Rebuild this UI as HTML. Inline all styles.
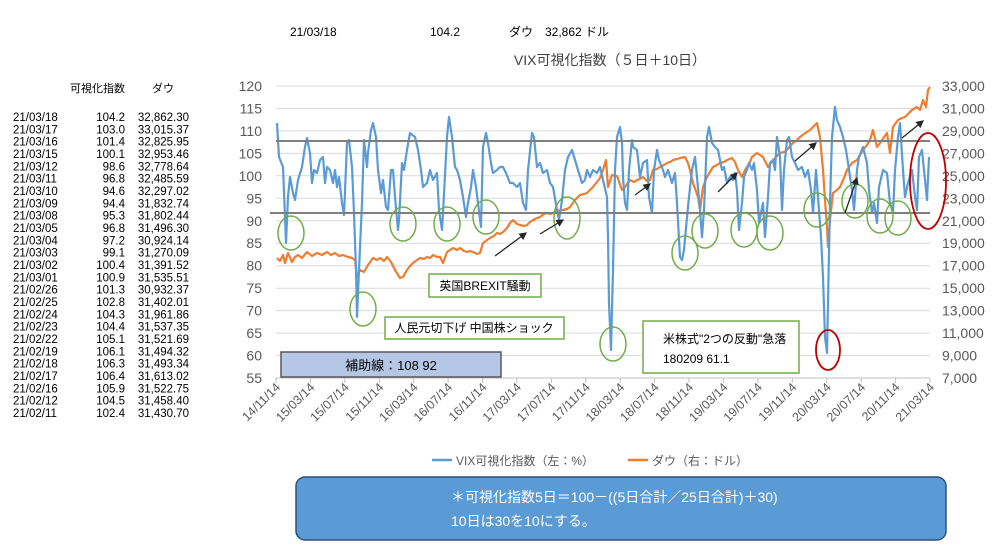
<!DOCTYPE html>
<html><head><meta charset="utf-8"><style>
body{margin:0;background:#fff;width:1000px;height:554px;overflow:hidden;font-family:"Liberation Sans","Noto Sans CJK JP",sans-serif;}
</style></head><body>
<svg width="1000" height="554" viewBox="0 0 1000 554" xmlns="http://www.w3.org/2000/svg" font-family="Liberation Sans, Noto Sans CJK JP, sans-serif">
<rect width="1000" height="554" fill="#fff"/>
<g font-size="12" fill="#000">
<text x="290" y="36">21/03/18</text><text x="430" y="36">104.2</text><text x="509" y="36">ダウ</text><text x="545" y="36">32,862 ドル</text>
</g>
<text x="610" y="65" font-size="14" fill="#404040" text-anchor="middle">VIX可視化指数（５日＋10日）</text>
<g font-size="11" fill="#000">
<text x="70" y="92">可視化指数</text><text x="152" y="92">ダウ</text>
</g>
<g font-size="11.5" fill="#000">
<text x="13" y="121">21/03/18</text><text x="125" y="121" text-anchor="end">104.2</text><text x="189" y="121" text-anchor="end">32,862.30</text>
<text x="13" y="133.3">21/03/17</text><text x="125" y="133.3" text-anchor="end">103.0</text><text x="189" y="133.3" text-anchor="end">33,015.37</text>
<text x="13" y="145.7">21/03/16</text><text x="125" y="145.7" text-anchor="end">101.4</text><text x="189" y="145.7" text-anchor="end">32,825.95</text>
<text x="13" y="158">21/03/15</text><text x="125" y="158" text-anchor="end">100.1</text><text x="189" y="158" text-anchor="end">32,953.46</text>
<text x="13" y="170.3">21/03/12</text><text x="125" y="170.3" text-anchor="end">98.6</text><text x="189" y="170.3" text-anchor="end">32,778.64</text>
<text x="13" y="182.7">21/03/11</text><text x="125" y="182.7" text-anchor="end">96.8</text><text x="189" y="182.7" text-anchor="end">32,485.59</text>
<text x="13" y="195">21/03/10</text><text x="125" y="195" text-anchor="end">94.6</text><text x="189" y="195" text-anchor="end">32,297.02</text>
<text x="13" y="207.3">21/03/09</text><text x="125" y="207.3" text-anchor="end">94.4</text><text x="189" y="207.3" text-anchor="end">31,832.74</text>
<text x="13" y="219.7">21/03/08</text><text x="125" y="219.7" text-anchor="end">95.3</text><text x="189" y="219.7" text-anchor="end">31,802.44</text>
<text x="13" y="232">21/03/05</text><text x="125" y="232" text-anchor="end">96.8</text><text x="189" y="232" text-anchor="end">31,496.30</text>
<text x="13" y="244.3">21/03/04</text><text x="125" y="244.3" text-anchor="end">97.2</text><text x="189" y="244.3" text-anchor="end">30,924.14</text>
<text x="13" y="256.7">21/03/03</text><text x="125" y="256.7" text-anchor="end">99.1</text><text x="189" y="256.7" text-anchor="end">31,270.09</text>
<text x="13" y="269">21/03/02</text><text x="125" y="269" text-anchor="end">100.4</text><text x="189" y="269" text-anchor="end">31,391.52</text>
<text x="13" y="281.3">21/03/01</text><text x="125" y="281.3" text-anchor="end">100.9</text><text x="189" y="281.3" text-anchor="end">31,535.51</text>
<text x="13" y="293.7">21/02/26</text><text x="125" y="293.7" text-anchor="end">101.3</text><text x="189" y="293.7" text-anchor="end">30,932.37</text>
<text x="13" y="306">21/02/25</text><text x="125" y="306" text-anchor="end">102.8</text><text x="189" y="306" text-anchor="end">31,402.01</text>
<text x="13" y="318.3">21/02/24</text><text x="125" y="318.3" text-anchor="end">104.3</text><text x="189" y="318.3" text-anchor="end">31,961.86</text>
<text x="13" y="330.7">21/02/23</text><text x="125" y="330.7" text-anchor="end">104.4</text><text x="189" y="330.7" text-anchor="end">31,537.35</text>
<text x="13" y="343">21/02/22</text><text x="125" y="343" text-anchor="end">105.1</text><text x="189" y="343" text-anchor="end">31,521.69</text>
<text x="13" y="355.3">21/02/19</text><text x="125" y="355.3" text-anchor="end">106.1</text><text x="189" y="355.3" text-anchor="end">31,494.32</text>
<text x="13" y="367.7">21/02/18</text><text x="125" y="367.7" text-anchor="end">106.3</text><text x="189" y="367.7" text-anchor="end">31,493.34</text>
<text x="13" y="380">21/02/17</text><text x="125" y="380" text-anchor="end">106.4</text><text x="189" y="380" text-anchor="end">31,613.02</text>
<text x="13" y="392.3">21/02/16</text><text x="125" y="392.3" text-anchor="end">105.9</text><text x="189" y="392.3" text-anchor="end">31,522.75</text>
<text x="13" y="404.7">21/02/12</text><text x="125" y="404.7" text-anchor="end">104.5</text><text x="189" y="404.7" text-anchor="end">31,458.40</text>
<text x="13" y="417">21/02/11</text><text x="125" y="417" text-anchor="end">102.4</text><text x="189" y="417" text-anchor="end">31,430.70</text>
</g>
<g stroke="#d9d9d9" stroke-width="1">
<line x1="276" x2="930" y1="86" y2="86"/><line x1="276" x2="930" y1="108.5" y2="108.5"/><line x1="276" x2="930" y1="130.9" y2="130.9"/><line x1="276" x2="930" y1="153.4" y2="153.4"/><line x1="276" x2="930" y1="175.8" y2="175.8"/><line x1="276" x2="930" y1="198.3" y2="198.3"/><line x1="276" x2="930" y1="220.8" y2="220.8"/><line x1="276" x2="930" y1="243.2" y2="243.2"/><line x1="276" x2="930" y1="265.7" y2="265.7"/><line x1="276" x2="930" y1="288.2" y2="288.2"/><line x1="276" x2="930" y1="310.6" y2="310.6"/><line x1="276" x2="930" y1="333.1" y2="333.1"/><line x1="276" x2="930" y1="355.5" y2="355.5"/>
</g>
<line x1="276" x2="930" y1="378" y2="378" stroke="#bfbfbf"/>
<g stroke="#bfbfbf"><line x1="276.0" x2="276.0" y1="378" y2="383"/><line x1="310.4" x2="310.4" y1="378" y2="383"/><line x1="344.8" x2="344.8" y1="378" y2="383"/><line x1="379.3" x2="379.3" y1="378" y2="383"/><line x1="413.7" x2="413.7" y1="378" y2="383"/><line x1="448.1" x2="448.1" y1="378" y2="383"/><line x1="482.5" x2="482.5" y1="378" y2="383"/><line x1="516.9" x2="516.9" y1="378" y2="383"/><line x1="551.4" x2="551.4" y1="378" y2="383"/><line x1="585.8" x2="585.8" y1="378" y2="383"/><line x1="620.2" x2="620.2" y1="378" y2="383"/><line x1="654.6" x2="654.6" y1="378" y2="383"/><line x1="689.1" x2="689.1" y1="378" y2="383"/><line x1="723.5" x2="723.5" y1="378" y2="383"/><line x1="757.9" x2="757.9" y1="378" y2="383"/><line x1="792.3" x2="792.3" y1="378" y2="383"/><line x1="826.7" x2="826.7" y1="378" y2="383"/><line x1="861.2" x2="861.2" y1="378" y2="383"/><line x1="895.6" x2="895.6" y1="378" y2="383"/><line x1="930.0" x2="930.0" y1="378" y2="383"/></g>
<g font-size="14" fill="#595959" text-anchor="end">
<text x="262" y="91">120</text><text x="262" y="113.5">115</text><text x="262" y="136">110</text><text x="262" y="158.4">105</text><text x="262" y="180.8">100</text><text x="262" y="203.3">95</text><text x="262" y="225.8">90</text><text x="262" y="248.2">85</text><text x="262" y="270.7">80</text><text x="262" y="293.2">75</text><text x="262" y="315.6">70</text><text x="262" y="338.1">65</text><text x="262" y="360.5">60</text><text x="262" y="383">55</text>
</g>
<g font-size="14" fill="#595959">
<text x="942" y="91">33,000</text><text x="942" y="113.5">31,000</text><text x="942" y="136">29,000</text><text x="942" y="158.4">27,000</text><text x="942" y="180.8">25,000</text><text x="942" y="203.3">23,000</text><text x="942" y="225.8">21,000</text><text x="942" y="248.2">19,000</text><text x="942" y="270.7">17,000</text><text x="942" y="293.2">15,000</text><text x="942" y="315.6">13,000</text><text x="942" y="338.1">11,000</text><text x="942" y="360.5">9,000</text><text x="942" y="383">7,000</text>
</g>
<g font-size="12.5" fill="#595959" text-anchor="end">
<text transform="translate(281,388) rotate(-45)">14/11/14</text><text transform="translate(315.4,388) rotate(-45)">15/03/14</text><text transform="translate(349.8,388) rotate(-45)">15/07/14</text><text transform="translate(384.3,388) rotate(-45)">15/11/14</text><text transform="translate(418.7,388) rotate(-45)">16/03/14</text><text transform="translate(453.1,388) rotate(-45)">16/07/14</text><text transform="translate(487.5,388) rotate(-45)">16/11/14</text><text transform="translate(521.9,388) rotate(-45)">17/03/14</text><text transform="translate(556.4,388) rotate(-45)">17/07/14</text><text transform="translate(590.8,388) rotate(-45)">17/11/14</text><text transform="translate(625.2,388) rotate(-45)">18/03/14</text><text transform="translate(659.6,388) rotate(-45)">18/07/14</text><text transform="translate(694.1,388) rotate(-45)">18/11/14</text><text transform="translate(728.5,388) rotate(-45)">19/03/14</text><text transform="translate(762.9,388) rotate(-45)">19/07/14</text><text transform="translate(797.3,388) rotate(-45)">19/11/14</text><text transform="translate(831.7,388) rotate(-45)">20/03/14</text><text transform="translate(866.2,388) rotate(-45)">20/07/14</text><text transform="translate(900.6,388) rotate(-45)">20/11/14</text><text transform="translate(935,388) rotate(-45)">21/03/14</text>
</g>
<polyline fill="none" stroke="#ed7d31" stroke-width="2.2" stroke-linejoin="round" points="277,258 280,261 283,255 285,263 288,253 292,262 295,257 298,255 302,258 307,252 312,256 317,253 322,255 327,252 331,255 335,253 339,256 343,255 348,257 352,258 355,260 357,277 360,270 364,272 368,265 373,258 377,260 380,258 384,261 387,257 391,262 395,270 400,278 403,277 407,270 410,266 413,263 417,260 420,258 424,259 427,257 430,258 433,255 437,257 440,257 443,263 447,252 450,250 453,248 457,250 460,248 464,251 467,252 470,251 473,252 477,254 480,253 483,243 487,240 490,238 494,236 497,233 500,234 503,232 507,228 510,223 513,220 517,224 520,225 524,226 527,225 530,222 533,220 537,218 540,217 544,214 547,213 550,214 553,213 557,210 560,211 563,210 567,209 570,207 575,200 580,195 584,194 587,193 590,190 593,187 597,182 600,178 603,170 606,160 608,187 612,175 617,176 622,190 625,187 630,180 634,182 637,180 640,179 643,177 647,181 650,180 653,170 657,169 660,167 664,165 667,163 670,162 673,160 677,159 680,158 685,157 688,163 690,170 693,183 698,197 700,210 703,187 707,177 710,172 713,167 717,165 720,163 724,162 727,160 732,158 735,162 738,170 742,177 745,170 747,167 750,162 752,157 757,153 760,155 763,157 768,167 773,160 777,156 780,153 784,152 787,150 790,146 793,143 797,140 800,137 804,134 807,132 810,130 813,127 817,123 820,137 823,170 825,200 827,227 828,247 830,220 833,193 837,190 840,187 844,178 847,170 852,163 857,160 860,155 863,150 867,145 870,140 873,130 877,147 880,143 882,140 887,133 890,153 893,127 898,120 902,118 905,117 909,113 912,110 917,107 920,110 923,100 926,107 928,90 930,87"/>
<polyline fill="none" stroke="#5b9bd5" stroke-width="2.2" stroke-linejoin="round" points="277,123 279,157 283,167 285,217 286,243 288,197 290,177 293,193 295,200 298,180 302,167 305,147 307,138 310,153 312,183 314,170 317,173 320,160 323,157 325,183 327,167 330,170 333,183 335,170 337,187 339,177 342,203 344,215 347,143 349,140 352,167 354,213 356,270 357,317 359,270 362,203 364,140 367,167 368,153 371,130 373,123 376,137 378,170 381,193 383,180 386,207 388,210 391,170 393,170 395,197 398,230 399,220 402,163 404,170 407,150 410,133 415,137 418,150 421,170 423,187 427,183 430,170 433,180 437,173 439,210 442,230 443,213 447,137 449,117 452,137 455,167 457,170 460,180 463,197 466,217 468,203 471,187 473,170 476,187 478,203 481,227 483,147 486,133 488,143 491,163 493,173 497,170 500,167 503,167 506,173 510,183 513,183 517,187 520,183 523,203 526,210 528,170 532,133 534,137 537,167 540,163 543,173 547,170 550,183 553,187 557,210 559,220 562,200 565,170 568,157 572,150 575,160 578,170 582,183 585,180 587,170 590,177 593,170 597,173 600,167 603,180 607,197 608,237 609,303 611,350 613,270 615,170 617,137 620,127 622,143 623,177 625,203 627,210 629,170 632,140 633,147 637,150 640,177 643,163 647,160 649,197 652,213 654,170 657,150 659,160 663,170 665,177 668,170 672,183 675,173 677,203 680,257 682,260 684,250 687,217 689,197 692,170 695,157 697,177 700,210 702,237 704,210 707,137 709,127 712,143 715,147 718,150 722,170 724,167 727,183 730,177 733,180 735,173 737,190 739,230 742,203 744,177 747,170 749,163 752,170 754,163 757,190 759,223 763,203 765,237 768,197 770,163 773,160 775,170 777,137 780,157 782,210 784,170 787,140 789,137 792,157 795,163 798,170 802,167 805,177 808,170 811,190 813,213 816,170 818,197 821,237 823,277 825,337 827,353 828,303 830,203 832,137 835,107 837,120 840,127 843,137 846,150 848,163 852,190 854,210 857,170 859,157 863,147 867,163 869,190 872,213 874,203 877,223 879,187 883,170 887,173 890,203 893,213 895,170 898,137 900,123 903,170 905,197 908,183 912,170 915,197 917,210 919,157 922,150 924,170 927,200 929,157"/>
<line x1="276" x2="930" y1="141" y2="141" stroke="#7f7f7f" stroke-width="2"/>
<line x1="270" x2="930" y1="213" y2="213" stroke="#7f7f7f" stroke-width="2"/>
<g fill="none" stroke="#70ad47" stroke-width="1.5">
<ellipse cx="291" cy="233" rx="13" ry="17"/><ellipse cx="363" cy="309" rx="13" ry="17"/><ellipse cx="403" cy="224" rx="13" ry="17"/><ellipse cx="447" cy="224" rx="13" ry="17"/><ellipse cx="486" cy="217" rx="13" ry="17"/><ellipse cx="567" cy="218" rx="13" ry="21"/><ellipse cx="613" cy="344" rx="13" ry="17"/><ellipse cx="685" cy="253" rx="13" ry="17"/><ellipse cx="705" cy="231" rx="13" ry="17"/><ellipse cx="744" cy="230" rx="13" ry="17"/><ellipse cx="770" cy="233" rx="13" ry="17"/><ellipse cx="817" cy="210" rx="13" ry="17"/><ellipse cx="855" cy="201" rx="13" ry="17"/><ellipse cx="880" cy="216" rx="13" ry="17"/><ellipse cx="898" cy="218" rx="13" ry="17"/>
</g>
<g fill="none" stroke="#c00000" stroke-width="1.8"><ellipse cx="828" cy="350" rx="12" ry="20"/><ellipse cx="928" cy="181" rx="18" ry="48"/></g>
<defs><marker id="ah" markerWidth="6" markerHeight="6" refX="5" refY="3" orient="auto"><path d="M0,0 L6,3 L0,6 z" fill="#262626"/></marker></defs>
<g stroke="#262626" stroke-width="1.3" marker-end="url(#ah)">
<line x1="495" y1="256" x2="526" y2="233"/><line x1="540" y1="234" x2="563" y2="220"/><line x1="635" y1="195" x2="650" y2="184"/><line x1="718" y1="192" x2="737" y2="173"/><line x1="795" y1="161" x2="816" y2="143"/><line x1="845" y1="213" x2="857" y2="178"/><line x1="902" y1="138" x2="923" y2="121"/>
</g>
<rect x="429" y="274" width="112" height="23" fill="#fff" stroke="#70ad47" stroke-width="1.5"/>
<text x="485" y="290" font-size="12" text-anchor="middle">英国BREXIT騒動</text>
<rect x="385" y="317" width="179" height="22" fill="#fff" stroke="#70ad47" stroke-width="1.5"/>
<text x="474" y="332" font-size="12" text-anchor="middle">人民元切下げ  中国株ショック</text>
<rect x="281" y="352" width="220" height="25" fill="#b4c7e7" stroke="#595959" stroke-width="1.5"/>
<text x="391" y="370" font-size="13" text-anchor="middle">補助線：108  92</text>
<rect x="643" y="321" width="156" height="52" fill="#fff" stroke="#70ad47" stroke-width="1.5"/>
<text x="663" y="343" font-size="12">米株式"2つの反動"急落</text>
<text x="663" y="363" font-size="12">180209  61.1</text>
<line x1="432" x2="452" y1="460" y2="460" stroke="#5b9bd5" stroke-width="2.5"/>
<text x="456" y="465" font-size="12" fill="#595959">VIX可視化指数（左：%）</text>
<line x1="628" x2="648" y1="460" y2="460" stroke="#ed7d31" stroke-width="2.5"/>
<text x="652" y="465" font-size="12" fill="#595959">ダウ（右：ドル）</text>
<rect x="296" y="477" width="650" height="63" rx="9" fill="#5b9bd5" stroke="#2f4f7f" stroke-width="1.5"/>
<text x="451" y="502" font-size="14" fill="#fff">＊可視化指数5日＝100－((5日合計／25日合計)＋30)</text>
<text x="451" y="526" font-size="14" fill="#fff">10日は30を10にする。</text>
</svg>
</body></html>
